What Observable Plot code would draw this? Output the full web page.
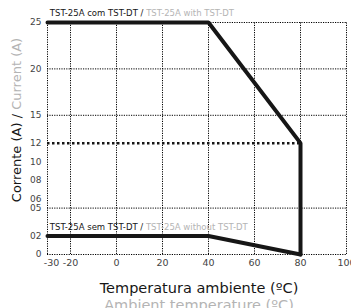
<!DOCTYPE html>
<html>
<head>
<meta charset="utf-8">
<script src="https://cdn.jsdelivr.net/npm/d3@7"></script>
<script src="https://cdn.jsdelivr.net/npm/@observablehq/plot@0.6"></script>
<style>
  html, body { margin: 0; padding: 0; background: #fff; }
  svg { font-family: "DejaVu Sans", sans-serif; }
</style>
</head>
<body>
<div id="chart"></div>
<script>
// Series: TST-25A with TST-DT
const withTemp = [-30, 40, 80, 80];
const withCurrent = [25, 25, 12, 0];
// Series: TST-25A without TST-DT
const withoutTemp = [-30, 40, 80];
const withoutCurrent = [2, 2, 0];
// Reference line at 12 A
const refLevel = 12;
const refX = [-30, 80];
// Ticks
const xTicks = [-30, -20, 0, 20, 40, 60, 80, 100];
const xLabels = ["-30", "-20", "0", "20", "40", "60", "80", "100"];
const yTicks = [0, 2, 5, 6, 8, 10, 12, 15, 20, 25];
const yLabels = ["0", "02", "05", "06", "08", "10", "12", "15", "20", "25"];
const xGrid = [-30, -20, 0, 20, 40, 60, 80, 100];
const yGrid = [0, 5, 15, 20, 25];
// Texts
const labelWith = ["TST-25A com TST-DT / ", "TST-25A with TST-DT"];
const labelWithout = ["TST-25A sem TST-DT / ", "TST-25A without TST-DT"];
const xTitle = ["Temperatura ambiente (ºC)", "Ambient temperature (ºC)"];
const yTitle = ["Corrente (A) / ", "Current (A)"];

const withData = withTemp.map((t, i) => ({t, c: withCurrent[i]}));
const withoutData = withoutTemp.map((t, i) => ({t, c: withoutCurrent[i]}));
const yFmt = Object.fromEntries(yTicks.map((v, i) => [v, yLabels[i]]));
const xFmt = Object.fromEntries(xTicks.map((v, i) => [v, xLabels[i]]));

const gray = "#b4b4b4";
const ink = "#161616";

const plot = Plot.plot({
  width: 351,
  height: 308,
  marginTop: 22,
  marginBottom: 54,
  marginLeft: 47,
  marginRight: 5,
  style: {fontSize: "9px", fontFamily: "DejaVu Sans, sans-serif", color: "#444"},
  x: {domain: [-30, 100]},
  y: {domain: [0, 25]},
  marks: [
    Plot.ruleX(xGrid, {y1: 0, y2: 25, stroke: "#000", strokeWidth: 1, strokeDasharray: "1.2,1.2"}),
    Plot.ruleY(yGrid, {x1: -30, x2: 100, stroke: "#000", strokeWidth: 1, strokeDasharray: "1.2,1.2"}),
    Plot.ruleY([refLevel], {x1: refX[0], x2: refX[1], stroke: ink, strokeWidth: 2.5, strokeDasharray: "2.5,2.5"}),
    Plot.line(withoutData, {x: "t", y: "c", stroke: ink, strokeWidth: 4, strokeLinejoin: "miter"}),
    Plot.line(withData, {x: "t", y: "c", stroke: ink, strokeWidth: 4, strokeLinejoin: "miter"}),
    Plot.axisX(xTicks.slice(0, 1), {label: null, tickSize: 0, tickPadding: 5, dx: 4, tickFormat: d => xFmt[d], fill: "#444", fontSize: 9.5}),
    Plot.axisX(xTicks.slice(1), {label: null, tickSize: 0, tickPadding: 5, tickFormat: d => xFmt[d], fill: "#444", fontSize: 9.5}),
    Plot.axisY(yTicks, {label: null, tickSize: 0, tickPadding: 6, tickFormat: d => yFmt[d], fill: "#444", fontSize: 9}),
    Plot.text([labelWith[0]], {x: -29, y: 25, dy: -9, text: d => d, textAnchor: "start", fill: ink, fontSize: 8.5, className: "lbl-with"}),
    Plot.text([labelWithout[0]], {x: -29, y: 2, dy: -9, text: d => d, textAnchor: "start", fill: ink, fontSize: 8.5, className: "lbl-without"})
  ]
});

const svg = d3.select(plot);
svg.select("g.lbl-with text").append("tspan").attr("fill", gray).text(labelWith[1]);
svg.select("g.lbl-without text").append("tspan").attr("fill", gray).text(labelWithout[1]);

// Axis titles (two-tone)
svg.append("text").attr("x", 199).attr("y", 293).attr("text-anchor", "middle")
  .attr("font-size", 14.5).attr("fill", ink).text(xTitle[0]);
svg.append("text").attr("x", 199).attr("y", 310).attr("text-anchor", "middle")
  .attr("font-size", 14.5).attr("fill", gray).text(xTitle[1]);
const yt = svg.append("text").attr("transform", "translate(21,120) rotate(-90)").attr("text-anchor", "middle")
  .attr("font-size", 13).attr("fill", ink).text(yTitle[0]);
yt.append("tspan").attr("fill", gray).text(yTitle[1]);

document.getElementById("chart").appendChild(plot);
</script>
</body>
</html>
